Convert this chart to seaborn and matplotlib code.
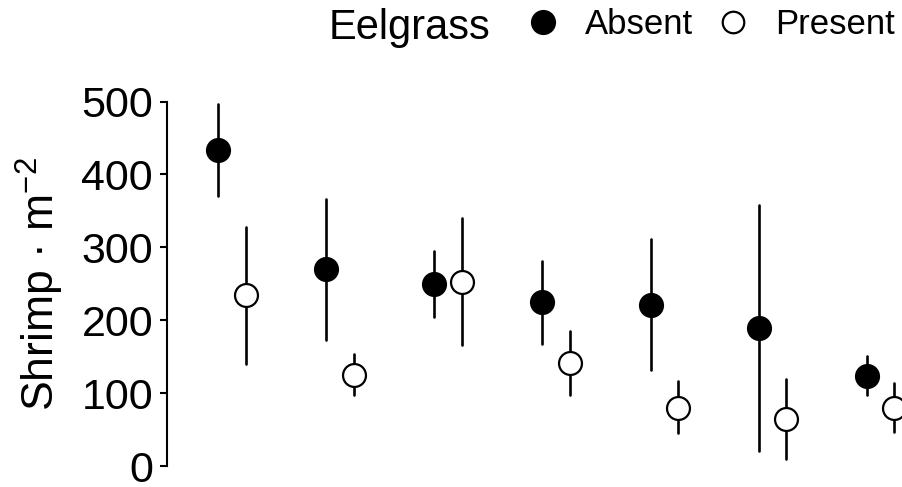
import numpy as np
import pandas as pd
import matplotlib
matplotlib.use("Agg")
import matplotlib.pyplot as plt
from matplotlib.lines import Line2D
import seaborn as sns

# Shrimp density per site, with lower/upper interval bounds
sites = ["S1", "S2", "S3", "S4", "S5", "S6", "S7"]
eelgrass_levels = ["Absent", "Present"]

absent_mean = [433, 270, 250, 225, 221, 189, 124]
absent_lo = [370, 173, 204, 168, 132, 21, 97]
absent_hi = [496, 366, 295, 281, 311, 358, 151]

present_mean = [234, 125, 253, 141, 79, 65, 79]
present_lo = [140, 97, 166, 97, 45, 9, 46]
present_hi = [328, 153, 340, 185, 116, 119, 114]

yticks = [0, 100, 200, 300, 400, 500]

# Long table: three rows per cell (lower, centre, upper) so that the median
# gives the point and the full percentile range gives the interval.
rows = []
for level, m, lo, hi in [("Absent", absent_mean, absent_lo, absent_hi),
                         ("Present", present_mean, present_lo, present_hi)]:
    for s, a, b, c in zip(sites, lo, m, hi):
        for v in (a, b, c):
            rows.append({"site": s, "eelgrass": level, "shrimp": v})
df = pd.DataFrame(rows)

sns.set_theme(style="ticks")
plt.rcParams["font.family"] = ["Liberation Sans", "DejaVu Sans"]
plt.rcParams["text.color"] = "black"
plt.rcParams["axes.labelcolor"] = "black"
plt.rcParams["ytick.color"] = "black"
plt.rcParams["mathtext.fontset"] = "custom"
plt.rcParams["mathtext.rm"] = "Liberation Sans"
plt.rcParams["mathtext.it"] = "Liberation Sans:italic"
plt.rcParams["mathtext.default"] = "regular"

W, H = 903, 487
fig = plt.figure(figsize=(W / 100, H / 100), dpi=100)
ax_left, ax_top = 167, 60
ax = fig.add_axes([ax_left / W, 0, 1 - ax_left / W, 1 - ax_top / H])

sns.pointplot(
    data=df, x="site", y="shrimp", hue="eelgrass",
    order=sites, hue_order=eelgrass_levels,
    estimator="median", errorbar=("pi", 100),
    dodge=0.254, palette=["black", "black"], markers="o",
    linestyle="none", markersize=16.5, markeredgewidth=1.6,
    err_kws={"linewidth": 1.9}, legend=False, ax=ax,
)

marker_lines = [ln for ln in ax.lines if ln.get_marker() == "o"]
for ln in ax.lines:
    ln.set_zorder(2)
for ln in marker_lines:
    ln.set_zorder(3)
marker_lines[1].set_markerfacecolor("white")
marker_lines[1].set_markeredgecolor("black")

# pixel-based limits: group spacing ~108 px, first group centre at x=232
px_per_group = 108.07
x0 = 232
ax.set_xlim((ax_left - x0) / px_per_group, (W - x0) / px_per_group)
px_per_unit = (466 - 101.5) / 500
ax.set_ylim((466 - H) / px_per_unit, (466 - ax_top) / px_per_unit)

ax.set_yticks(yticks)
ax.set_yticklabels([str(t) for t in yticks], fontsize=31)
ax.tick_params(axis="y", length=5, width=1.5, pad=5, color="black", labelcolor="black")
ax.xaxis.set_visible(False)
for side in ["top", "right", "bottom"]:
    ax.spines[side].set_visible(False)
ax.spines["left"].set_bounds(0, 500)
ax.spines["left"].set_linewidth(1.5)
ax.spines["left"].set_color("black")
ax.set_ylabel("")
ax.set_xlabel("")
ax.patch.set_alpha(0)

fig.text(40 / W, 1 - 284 / H, "Shrimp · m$^{-2}$", rotation=90,
         ha="center", va="center", fontsize=32, color="black")

# Legend across the top
fig.text(329 / W, 1 - 39 / H, "Eelgrass", ha="left", va="baseline",
         fontsize=30, color="black")
handles = [
    Line2D([], [], marker="o", linestyle="none", markersize=16.5,
           markerfacecolor="black", markeredgecolor="black", markeredgewidth=1.6),
    Line2D([], [], marker="o", linestyle="none", markersize=15.5,
           markerfacecolor="white", markeredgecolor="black", markeredgewidth=1.6),
]
leg = fig.legend(handles, eelgrass_levels, ncol=2, frameon=False, fontsize=25,
                 loc="center left", bbox_to_anchor=(526 / W, 1 - 25 / H),
                 handlelength=1.0, handletextpad=0.71, columnspacing=0.65,
                 borderpad=0, borderaxespad=0)
for t in leg.get_texts():
    t.set_color("black")

fig.savefig("out.png", dpi=100)
